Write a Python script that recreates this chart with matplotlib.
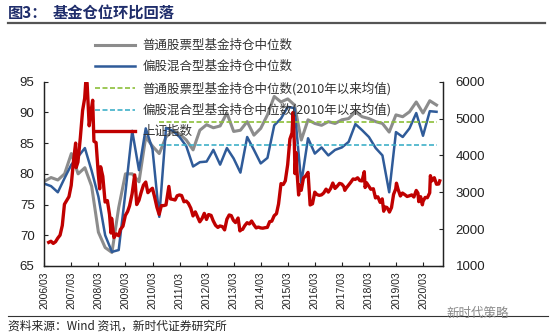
import matplotlib.pyplot as plt
import matplotlib.lines as mlines
import pandas as pd

plt.rcParams['font.family'] = ['Noto Sans CJK SC', 'DejaVu Sans']

# 季度数据：2006/03 ~ 2020/09
quarters = pd.period_range('2006Q1', '2020Q3', freq='Q')
stock_fund = [78.8, 79.4, 79.0, 80.0, 83.3, 80.0, 81.0, 78.0, 70.5, 68.0,
              67.2, 74.5, 80.0, 80.0, 78.7, 86.0, 84.5, 83.3, 86.0, 87.0,
              86.5, 85.5, 83.9, 87.1, 88.0, 87.5, 87.8, 89.9, 86.9, 87.1,
              88.5, 86.3, 87.4, 89.6, 92.6, 91.7, 92.2, 91.2, 85.5, 88.8,
              88.2, 87.9, 88.5, 88.2, 88.8, 89.0, 90.1, 89.3, 89.0, 88.5,
              88.2, 86.8, 89.6, 89.3, 90.1, 91.7, 89.9, 91.9, 91.2]
mixed_fund = [78.4, 78.0, 77.0, 79.3, 81.5, 82.8, 84.2, 80.5, 76.3, 70.0,
              67.3, 67.6, 77.0, 87.0, 80.6, 87.4, 84.0, 73.0, 87.5, 87.0,
              86.0, 84.5, 81.2, 81.9, 82.0, 83.9, 81.5, 84.2, 82.5, 80.2,
              86.0, 83.9, 81.7, 82.6, 87.9, 89.0, 90.9, 90.7, 78.5, 85.8,
              83.3, 84.3, 83.0, 83.9, 84.3, 85.2, 88.1, 87.1, 86.0, 84.2,
              83.0, 77.0, 86.8, 86.0, 87.4, 89.9, 86.2, 90.2, 90.1]
# 2010年以来均值
stock_mean = 88.5
mixed_mean = 84.7
mean_start = '2010Q2'

# 上证指数
sh_dates = ['2006-05-31', '2006-06-30', '2006-07-31', '2006-08-31', '2006-09-29', '2006-10-31',
            '2006-11-30', '2006-12-29', '2007-01-31', '2007-02-28', '2007-03-30', '2007-04-30',
            '2007-05-29', '2007-06-05', '2007-06-29', '2007-07-31', '2007-08-31', '2007-09-28',
            '2007-10-16', '2007-10-31', '2007-11-28', '2007-12-28', '2008-01-14', '2008-01-31',
            '2008-02-29', '2008-03-31', '2008-04-18', '2008-04-30', '2008-05-30', '2008-06-30',
            '2008-07-31', '2008-08-29', '2008-09-18', '2008-09-26', '2008-10-28', '2008-11-28',
            '2008-12-31', '2009-01-23', '2009-02-27', '2009-03-31', '2009-04-30', '2009-05-27',
            '2009-06-30', '2009-08-04', '2009-08-31', '2009-09-30', '2009-10-30', '2009-11-30',
            '2009-12-31', '2010-01-29', '2010-02-26', '2010-03-31', '2010-04-30', '2010-05-31',
            '2010-06-30', '2010-07-30', '2010-08-31', '2010-09-30', '2010-11-08', '2010-11-30',
            '2010-12-31', '2011-01-31', '2011-02-28', '2011-03-31', '2011-04-29', '2011-05-31',
            '2011-06-30', '2011-07-29', '2011-08-31', '2011-09-30', '2011-10-31', '2011-11-30',
            '2011-12-30', '2012-01-31', '2012-02-29', '2012-03-30', '2012-04-27', '2012-05-31',
            '2012-06-29', '2012-07-31', '2012-08-31', '2012-09-28', '2012-10-31', '2012-11-30',
            '2012-12-31', '2013-01-31', '2013-02-28', '2013-03-29', '2013-04-26', '2013-05-31',
            '2013-06-25', '2013-06-28', '2013-07-31', '2013-08-30', '2013-09-30', '2013-10-31',
            '2013-11-29', '2013-12-31', '2014-01-30', '2014-02-28', '2014-03-31', '2014-04-30',
            '2014-05-30', '2014-06-30', '2014-07-31', '2014-08-29', '2014-09-30', '2014-10-31',
            '2014-11-28', '2014-12-31', '2015-01-30', '2015-02-27', '2015-03-31', '2015-04-30',
            '2015-05-29', '2015-06-12', '2015-06-30', '2015-07-08', '2015-07-24', '2015-07-31',
            '2015-08-26', '2015-08-31', '2015-09-30', '2015-10-30', '2015-11-30', '2015-12-31',
            '2016-01-28', '2016-02-29', '2016-03-31', '2016-04-29', '2016-05-31', '2016-06-30',
            '2016-07-29', '2016-08-31', '2016-09-30', '2016-10-31', '2016-11-30', '2016-12-30',
            '2017-01-26', '2017-02-28', '2017-03-31', '2017-04-28', '2017-05-11', '2017-05-31',
            '2017-06-30', '2017-07-31', '2017-08-31', '2017-09-29', '2017-10-31', '2017-11-30',
            '2017-12-29', '2018-01-29', '2018-02-09', '2018-02-28', '2018-03-30', '2018-04-27',
            '2018-05-31', '2018-06-29', '2018-07-31', '2018-08-31', '2018-09-28', '2018-10-18',
            '2018-10-31', '2018-11-30', '2018-12-28', '2019-01-03', '2019-01-31', '2019-02-28',
            '2019-03-29', '2019-04-08', '2019-04-30', '2019-05-31', '2019-06-28', '2019-07-31',
            '2019-08-30', '2019-09-30', '2019-10-31', '2019-11-29', '2019-12-31', '2020-01-23',
            '2020-02-03', '2020-02-28', '2020-03-23', '2020-03-31', '2020-04-30', '2020-05-29',
            '2020-06-30', '2020-07-09', '2020-07-31', '2020-08-31', '2020-09-30', '2020-10-30',
            '2020-11-13']
sh_index = [1641, 1672, 1612, 1658, 1753, 1837,
            2099, 2675, 2786, 2881, 3183, 3841,
            4335, 3670, 3820, 4471, 5218, 5552,
            6092, 5954, 4803, 5262, 5497, 4383,
            4348, 3473, 3094, 3693, 3433, 2736,
            2775, 2397, 1895, 2294, 1771, 1871,
            1821, 1991, 2082, 2373, 2477, 2633,
            2959, 3471, 2667, 2779, 2996, 3195,
            3277, 2989, 3051, 3109, 2870, 2592,
            2398, 2638, 2639, 2656, 3159, 2820,
            2808, 2790, 2905, 2928, 2911, 2743,
            2762, 2701, 2568, 2359, 2469, 2333,
            2199, 2292, 2428, 2263, 2396, 2373,
            2225, 2103, 2047, 2086, 2069, 1980,
            2269, 2385, 2366, 2237, 2178, 2301,
            1951, 1979, 1994, 2098, 2175, 2141,
            2220, 2116, 2033, 2056, 2033, 2026,
            2039, 2048, 2202, 2217, 2364, 2420,
            2683, 3235, 3210, 3310, 3748, 4442,
            4612, 5166, 4277, 3507, 4070, 3664,
            2927, 3206, 3053, 3383, 3445, 3539,
            2656, 2688, 3004, 2938, 2917, 2930,
            2979, 3085, 3005, 3100, 3250, 3104,
            3159, 3242, 3223, 3155, 3053, 3117,
            3192, 3273, 3361, 3349, 3393, 3317,
            3307, 3559, 3129, 3259, 3169, 3082,
            3095, 2847, 2876, 2725, 2821, 2486,
            2603, 2588, 2494, 2464, 2585, 2941,
            3091, 3247, 3078, 2899, 2979, 2933,
            2886, 2905, 2929, 2872, 3050, 2977,
            2746, 2880, 2660, 2750, 2860, 2852,
            2985, 3451, 3310, 3396, 3218, 3225,
            3310]

tick_years = list(range(2006, 2021))


def to_year(ts):
    ts = pd.Timestamp(ts)
    return ts.year + ts.dayofyear / (366 if ts.is_leap_year else 365)


qx = [p.year + p.quarter * 3 / 12 for p in quarters]
sh_x = [to_year(d) for d in sh_dates]
mean_x0 = pd.Period(mean_start).year + pd.Period(mean_start).quarter * 3 / 12

fig = plt.figure(figsize=(5.5, 3.36), dpi=100)
ax = fig.add_axes([44.3 / 550, 1 - 266 / 336, 399 / 550, 184.3 / 336])
ax2 = ax.twinx()

ax.plot(qx, stock_fund, color='#8c8c8c', lw=2.2, label='普通股票型基金持仓中位数')
ax.plot(qx, mixed_fund, color='#2f5b99', lw=1.8, label='偏股混合型基金持仓中位数')
ax.plot([mean_x0, qx[-1]], [stock_mean] * 2, color='#8cbf3a', lw=1.2, ls=(0, (3, 1.5)),
        label='普通股票型基金持仓中位数(2010年以来均值)')
ax.plot([mean_x0, qx[-1]], [mixed_mean] * 2, color='#3fb0c8', lw=1.2, ls=(0, (3, 1.5)),
        label='偏股混合型基金持仓中位数(2010年以来均值)')
ax2.plot(sh_x, sh_index, color='#c00000', lw=2.4, label='上证指数')

ax.set_xlim(2006.25, 2021.0)
ax.set_ylim(65, 95)
ax2.set_ylim(1000, 6000)
ax.set_yticks(range(65, 96, 5))
ax2.set_yticks(range(1000, 6001, 1000))
ax.set_xticks([y + 0.25 for y in tick_years])
ax.set_xticklabels(['%d/03' % y for y in tick_years], rotation=90, fontsize=7.5,
                   family='Liberation Sans')

for a in (ax, ax2):
    a.spines['top'].set_visible(False)
    for s in a.spines.values():
        s.set_color('#222222')
        s.set_linewidth(0.9)
ax.tick_params(axis='x', direction='in', length=3, pad=4, colors='#222222')
ax.tick_params(axis='y', direction='in', length=3, pad=7, labelsize=9.5, colors='#222222')
ax2.tick_params(axis='y', direction='in', length=3, pad=9, labelsize=9.5, colors='#222222')
for lab in ax.get_yticklabels() + ax2.get_yticklabels():
    lab.set_family('Liberation Sans')

h1, l1 = ax.get_legend_handles_labels()
h2, l2 = ax2.get_legend_handles_labels()
leg = fig.legend(h1 + h2, l1 + l2, loc='upper left', bbox_to_anchor=(90 / 550, 1 - 34 / 336),
                 frameon=False, fontsize=9, handlelength=3.2, labelspacing=0.66,
                 handletextpad=0.6, borderaxespad=0)
for t in leg.get_texts():
    t.set_color('#333333')

# 标题
fig.text(8 / 550, 1 - 13 / 336, '图3：', fontsize=11, fontweight='bold', color='#1f2d6b', va='center')
fig.text(53 / 550, 1 - 13 / 336, '基金仓位环比回落', fontsize=11, fontweight='bold', color='#1f2d6b',
         va='center')
fig.add_artist(mlines.Line2D([8 / 550, 545 / 550], [1 - 23 / 336] * 2, color='#555555', lw=1.6))
fig.add_artist(mlines.Line2D([8 / 550, 548 / 550], [1 - 316 / 336] * 2, color='#333333', lw=0.8))
fig.text(478 / 550, 1 - 313 / 336, '新时代策略', fontsize=9, color='#8a8a8a', va='center', ha='center')
fig.text(8 / 550, 1 - 326 / 336, '资料来源：Wind 资讯，新时代证券研究所', fontsize=8.5,
         color='#222222', va='center')

plt.savefig('out.png', dpi=100)
